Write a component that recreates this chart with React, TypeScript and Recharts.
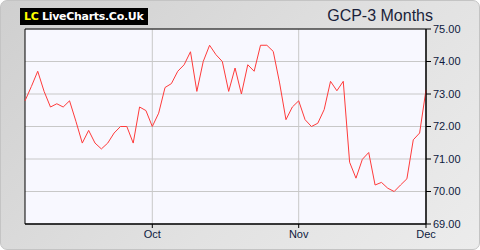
import { LineChart, Line, XAxis, YAxis, CartesianGrid, ReferenceArea } from 'recharts'

// daily closes, roughly Sep -> early Dec
const prices = [
  72.79, 73.23, 73.7, 73.08, 72.6, 72.7, 72.6, 72.79, 72.16, 71.49,
  71.88, 71.49, 71.31, 71.49, 71.8, 72.0, 72.0, 71.49, 72.6, 72.49,
  72.0, 72.41, 73.2, 73.32, 73.7, 73.9, 74.3, 73.08, 74.0, 74.5,
  74.21, 74.0, 73.08, 73.8, 73.0, 73.9, 73.7, 74.5, 74.5, 74.31,
  73.34, 72.21, 72.6, 72.79, 72.21, 72.0, 72.1, 72.52, 73.39, 73.1,
  73.39, 70.9, 70.41, 70.99, 71.2, 70.2, 70.28, 70.1, 70.0, 70.2,
  70.39, 71.59, 71.8, 73.13,
]
const monthTicks = [20, 43, 63]
const monthLabels = ['Oct', 'Nov', 'Dec']
const priceTicks = [69, 70, 71, 72, 73, 74, 75]

const data = prices.map((p, i) => ({ i, price: p }))

const tickFont = { fill: '#0e1a40', fontSize: 11, fontFamily: 'Liberation Sans, Arial, sans-serif' }

export default function App() {
  return (
    <div
      style={{
        position: 'absolute',
        left: 0,
        top: 0,
        width: 478,
        height: 248,
        border: '1px solid #c4c4c4',
        borderRadius: 7,
        background: 'linear-gradient(135deg, #cfcfcf 0%, #e2e2e2 60%, #ececec 100%)',
        overflow: 'hidden',
      }}
    >
      <div
        style={{
          position: 'absolute',
          left: 19,
          top: 7,
          width: 128,
          height: 17,
          background: '#000',
          color: '#fff',
          fontFamily: 'DejaVu Sans, sans-serif',
          fontWeight: 'bold',
          fontSize: 11,
          letterSpacing: '-0.3px',
          lineHeight: '17px',
          paddingLeft: 4,
          boxSizing: 'border-box',
          whiteSpace: 'nowrap',
          overflow: 'hidden',
        }}
      >
        <span style={{ color: '#ffff00' }}>LC</span> LiveCharts.Co.Uk
      </div>
      <div
        style={{
          position: 'absolute',
          right: 46,
          top: 6,
          fontFamily: 'Liberation Sans, Arial, sans-serif',
          fontSize: 16,
          color: '#1a1f3a',
        }}
      >
        GCP-3 Months
      </div>
      <LineChart
        width={480}
        height={250}
        data={data}
        margin={{ top: 29, right: 0, left: 25, bottom: 0 }}
        style={{ position: 'absolute', left: -1, top: -1 }}
      >
        <CartesianGrid
          fill="#f8f8ff"
          stroke="#c8c8c8"
          strokeWidth={1}
          horizontalValues={priceTicks}
          verticalValues={monthTicks}
        />
        <XAxis
          dataKey="i"
          type="number"
          domain={[0, 63]}
          ticks={monthTicks}
          tickFormatter={(v) => monthLabels[monthTicks.indexOf(v)]}
          height={26}
          tickSize={4}
          tickLine={{ stroke: '#000' }}
          axisLine={{ stroke: '#000' }}
          tick={tickFont}
          interval={0}
        />
        <YAxis
          orientation="right"
          domain={[69, 75]}
          ticks={priceTicks}
          tickFormatter={(v) => v.toFixed(2)}
          width={54}
          tickSize={5}
          tickLine={{ stroke: '#000' }}
          axisLine={{ stroke: '#000' }}
          tick={tickFont}
          interval={0}
        />
        <ReferenceArea x1={0} x2={63} y1={69} y2={75} fill="none" stroke="#000" strokeOpacity={1} />
        <Line
          dataKey="price"
          type="linear"
          stroke="#ff3b3b"
          strokeWidth={1}
          dot={false}
          isAnimationActive={false}
        />
      </LineChart>
    </div>
  )
}
